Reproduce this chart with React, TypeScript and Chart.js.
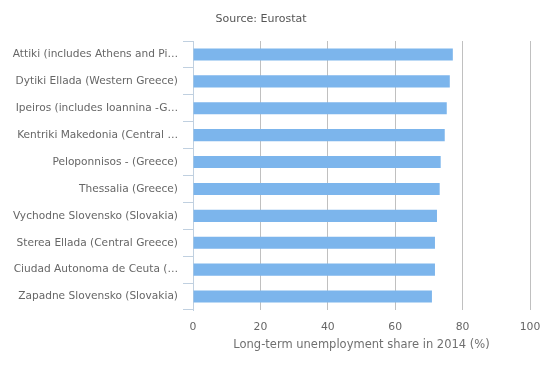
import React, { useEffect, useRef } from "react";
import { Chart, registerables } from "chart.js";

Chart.register(...registerables);

const categories = [
  "Attiki (includes Athens and Pi…",
  "Dytiki Ellada (Western Greece)",
  "Ipeiros (includes Ioannina -G…",
  "Kentriki Makedonia (Central …",
  "Peloponnisos - (Greece)",
  "Thessalia (Greece)",
  "Vychodne Slovensko (Slovakia)",
  "Sterea Ellada (Central Greece)",
  "Ciudad Autonoma de Ceuta (…",
  "Zapadne Slovensko (Slovakia)",
];

const shareValues = [77.1, 76.2, 75.3, 74.7, 73.5, 73.2, 72.4, 71.8, 71.8, 70.9];

const xTickValues = [0, 20, 40, 60, 80, 100];

const sourceText = "Source: Eurostat";
const xAxisTitle = "Long-term unemployment share in 2014 (%)";

const FONT = "'DejaVu Sans', sans-serif";

export default function App() {
  const canvasRef = useRef<HTMLCanvasElement | null>(null);

  useEffect(() => {
    const canvas = canvasRef.current;
    if (!canvas) return;

    const sourcePlugin = {
      id: "sourceTitle",
      afterDraw(chart: any) {
        const ctx = chart.ctx;
        ctx.save();
        ctx.font = `11px ${FONT}`;
        ctx.fillStyle = "#555555";
        ctx.textAlign = "center";
        ctx.textBaseline = "middle";
        ctx.fillText(sourceText, (chart.width - 18) / 2, 19);
        ctx.restore();
      },
    };

    const chart = new Chart(canvas, {
      type: "bar",
      data: {
        labels: categories,
        datasets: [
          {
            data: shareValues,
            backgroundColor: "#7cb5ec",
            borderWidth: 0,
            categoryPercentage: 0.6,
            barPercentage: 0.75,
          },
        ],
      },
      options: {
        indexAxis: "y",
        animation: false,
        responsive: false,
        maintainAspectRatio: false,
        layout: { padding: { top: 41, left: 0, right: 0, bottom: 0 } },
        plugins: {
          legend: { display: false },
          tooltip: { enabled: false },
          title: { display: false },
        },
        scales: {
          x: {
            type: "linear",
            min: 0,
            max: 100,
            afterBuildTicks: (scale: any) => {
              scale.ticks = xTickValues.map((v) => ({ value: v }));
            },
            afterFit: (scale: any) => {
              scale.height = 60;
              scale.paddingRight = 10;
              scale.paddingLeft = 0;
            },
            grid: {
              display: true,
              drawTicks: false,
              color: (ctx: any) =>
                ctx.tick && ctx.tick.value === 0 ? "rgba(0,0,0,0)" : "#c0c0c0",
              lineWidth: 1,
            },
            border: { display: false },
            ticks: {
              padding: 11,
              color: "#666666",
              font: { family: FONT, size: 10.8 },
            },
            title: {
              display: true,
              text: xAxisTitle,
              color: "#707070",
              font: { family: FONT, size: 11.5 },
              padding: { top: 0, bottom: 18 },
            },
          },
          y: {
            type: "category",
            afterFit: (scale: any) => {
              scale.width = 193;
            },
            grid: {
              display: true,
              drawOnChartArea: false,
              drawTicks: true,
              tickLength: 10,
              color: "#c0d0e0",
              offset: true,
            },
            border: { display: true, color: "#c0d0e0", width: 1 },
            ticks: {
              padding: 5,
              color: "#666666",
              autoSkip: false,
              font: { family: FONT, size: 10.6 },
            },
          },
        },
      },
      plugins: [sourcePlugin],
    });

    return () => {
      chart.destroy();
    };
  }, []);

  return (
    <div style={{ position: "fixed", left: 0, top: 0, width: 540, height: 370, background: "#ffffff" }}>
      <canvas ref={canvasRef} width={540} height={370} style={{ width: 540, height: 370, display: "block" }} />
    </div>
  );
}
